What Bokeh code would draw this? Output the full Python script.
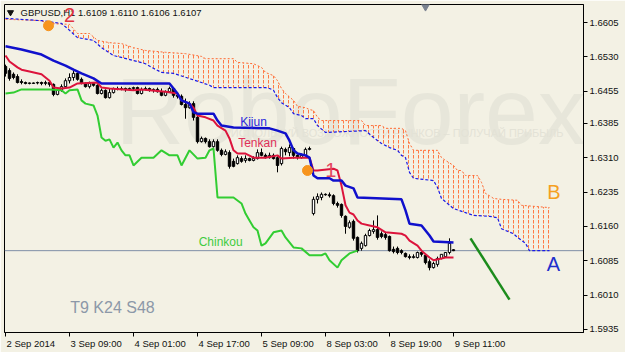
from bokeh.plotting import figure
from bokeh.models import FixedTicker, Label, Span, Range1d, PrintfTickFormatter
from bokeh.embed import file_html
from bokeh.resources import INLINE
from bokeh.core.properties import value

# ---------------- data (GBPUSD H1) ----------------
bar_open = [1.6509, 1.6500, 1.6492, 1.6487, 1.6476, 1.6474, 1.6472, 1.6472, 1.6473, 1.6474,
            1.6472, 1.6474, 1.6470, 1.6448, 1.6457, 1.6465, 1.6478, 1.6485, 1.6494, 1.6481,
            1.6472, 1.6465, 1.6472, 1.6468, 1.6450, 1.6457, 1.6441, 1.6452, 1.6461, 1.6459,
            1.6461, 1.6459, 1.6461, 1.6463, 1.6450, 1.6459, 1.6461, 1.6457, 1.6459, 1.6454,
            1.6446, 1.6454, 1.6461, 1.6446, 1.6444, 1.6426, 1.6419, 1.6428, 1.6398, 1.6345,
            1.6352, 1.6345, 1.6334, 1.6345, 1.6326, 1.6317, 1.6321, 1.6302, 1.6297, 1.6308,
            1.6304, 1.6308, 1.6304, 1.6308, 1.6321, 1.6315, 1.6310, 1.6315, 1.6310, 1.6297,
            1.6328, 1.6321, 1.6330, 1.6315, 1.6310, 1.6315, 1.6328, 1.6188, 1.6219, 1.6223,
            1.6230, 1.6229, 1.6227, 1.6210, 1.6208, 1.6182, 1.6158, 1.6171, 1.6136, 1.6112,
            1.6118, 1.6140, 1.6149, 1.6153, 1.6144, 1.6142, 1.6138, 1.6110, 1.6112, 1.6107,
            1.6101, 1.6094, 1.6092, 1.6092, 1.6103, 1.6097, 1.6083, 1.6070, 1.6077, 1.6090,
            1.6094, 1.6103, 1.6109]
bar_high = [1.6513, 1.6505, 1.6496, 1.6492, 1.6481, 1.6476, 1.6474, 1.6474, 1.6476, 1.6476,
            1.6478, 1.6478, 1.6472, 1.6459, 1.6470, 1.6483, 1.6494, 1.6500, 1.6496, 1.6485,
            1.6474, 1.6476, 1.6474, 1.6470, 1.6461, 1.6459, 1.6461, 1.6463, 1.6465, 1.6465,
            1.6463, 1.6463, 1.6465, 1.6465, 1.6463, 1.6465, 1.6463, 1.6461, 1.6463, 1.6461,
            1.6457, 1.6465, 1.6463, 1.6452, 1.6448, 1.6439, 1.6433, 1.6433, 1.6402, 1.6356,
            1.6354, 1.6350, 1.6350, 1.6350, 1.6330, 1.6328, 1.6326, 1.6308, 1.6315, 1.6313,
            1.6315, 1.6310, 1.6313, 1.6328, 1.6330, 1.6319, 1.6321, 1.6319, 1.6313, 1.6334,
            1.6332, 1.6339, 1.6332, 1.6317, 1.6319, 1.6332, 1.6334, 1.6225, 1.6232, 1.6234,
            1.6232, 1.6234, 1.6230, 1.6214, 1.6210, 1.6184, 1.6173, 1.6175, 1.6138, 1.6127,
            1.6144, 1.6155, 1.6173, 1.6184, 1.6149, 1.6147, 1.6140, 1.6116, 1.6116, 1.6110,
            1.6103, 1.6099, 1.6099, 1.6105, 1.6105, 1.6099, 1.6088, 1.6083, 1.6094, 1.6099,
            1.6103, 1.6134, 1.6110]
bar_low = [1.6487, 1.6478, 1.6481, 1.6472, 1.6470, 1.6470, 1.6470, 1.6471, 1.6470, 1.6468,
           1.6468, 1.6465, 1.6444, 1.6446, 1.6454, 1.6461, 1.6472, 1.6478, 1.6478, 1.6470,
           1.6463, 1.6461, 1.6465, 1.6448, 1.6448, 1.6439, 1.6439, 1.6450, 1.6457, 1.6457,
           1.6454, 1.6457, 1.6457, 1.6448, 1.6448, 1.6457, 1.6454, 1.6452, 1.6452, 1.6444,
           1.6444, 1.6452, 1.6441, 1.6439, 1.6424, 1.6395, 1.6417, 1.6391, 1.6341, 1.6343,
           1.6341, 1.6332, 1.6332, 1.6323, 1.6313, 1.6315, 1.6286, 1.6289, 1.6295, 1.6299,
           1.6299, 1.6302, 1.6302, 1.6306, 1.6313, 1.6308, 1.6308, 1.6306, 1.6278, 1.6293,
           1.6315, 1.6313, 1.6308, 1.6306, 1.6308, 1.6313, 1.6326, 1.6184, 1.6210, 1.6217,
           1.6227, 1.6223, 1.6206, 1.6201, 1.6179, 1.6144, 1.6155, 1.6129, 1.6103, 1.6107,
           1.6116, 1.6138, 1.6144, 1.6131, 1.6134, 1.6131, 1.6105, 1.6101, 1.6099, 1.6099,
           1.6092, 1.6088, 1.6090, 1.6090, 1.6094, 1.6077, 1.6064, 1.6068, 1.6072, 1.6088,
           1.6092, 1.6099, 1.6106]
bar_close = [1.6494, 1.6483, 1.6485, 1.6474, 1.6474, 1.6472, 1.6473, 1.6473, 1.6474, 1.6472,
             1.6474, 1.6470, 1.6448, 1.6457, 1.6465, 1.6478, 1.6485, 1.6494, 1.6481, 1.6472,
             1.6465, 1.6472, 1.6468, 1.6450, 1.6457, 1.6441, 1.6452, 1.6461, 1.6459, 1.6461,
             1.6459, 1.6461, 1.6463, 1.6450, 1.6459, 1.6461, 1.6457, 1.6459, 1.6454, 1.6446,
             1.6454, 1.6461, 1.6446, 1.6444, 1.6426, 1.6419, 1.6428, 1.6398, 1.6345, 1.6352,
             1.6345, 1.6334, 1.6345, 1.6326, 1.6317, 1.6323, 1.6291, 1.6291, 1.6310, 1.6302,
             1.6308, 1.6304, 1.6308, 1.6321, 1.6315, 1.6310, 1.6315, 1.6308, 1.6293, 1.6330,
             1.6323, 1.6332, 1.6315, 1.6310, 1.6315, 1.6328, 1.6330, 1.6219, 1.6225, 1.6230,
             1.6229, 1.6227, 1.6210, 1.6206, 1.6184, 1.6160, 1.6168, 1.6134, 1.6107, 1.6123,
             1.6140, 1.6151, 1.6153, 1.6136, 1.6138, 1.6136, 1.6107, 1.6105, 1.6103, 1.6103,
             1.6094, 1.6092, 1.6094, 1.6103, 1.6099, 1.6081, 1.6070, 1.6079, 1.6090, 1.6099,
             1.6103, 1.6123, 1.6107]

kijun_bar = [0, 4, 9, 12, 15, 17, 19, 22, 24, 41, 42, 43, 44, 46, 47, 48, 52, 53, 54, 57,
             66, 68, 70, 71, 72, 73, 75, 76, 77, 78, 81, 82, 84, 85, 87, 88, 99, 100, 101, 104,
             105, 106, 107, 112]
kijun_val = [1.6553, 1.6546, 1.6535, 1.6522, 1.6511, 1.6502, 1.6494, 1.6483, 1.6472, 1.6472,
             1.6461, 1.6450, 1.6435, 1.6428, 1.6409, 1.6406, 1.6406, 1.6391, 1.6380, 1.6376,
             1.6374, 1.6369, 1.6363, 1.6347, 1.6326, 1.6319, 1.6315, 1.6310, 1.6271, 1.6265,
             1.6265, 1.6260, 1.6260, 1.6249, 1.6243, 1.6223, 1.6219, 1.6195, 1.6166, 1.6162,
             1.6151, 1.6140, 1.6127, 1.6125]

tenkan_bar = [0, 1, 3, 4, 6, 9, 11, 12, 14, 16, 18, 23, 24, 26, 32, 34, 40, 43, 44, 46,
              47, 48, 50, 52, 53, 55, 56, 57, 58, 60, 62, 65, 68, 69, 72, 76, 77, 78, 82, 83,
              84, 85, 86, 87, 88, 89, 91, 93, 95, 99, 100, 101, 103, 104, 106, 107, 109, 110, 112]
tenkan_val = [1.6533, 1.6520, 1.6507, 1.6502, 1.6498, 1.6492, 1.6478, 1.6463, 1.6461, 1.6463,
              1.6472, 1.6474, 1.6463, 1.6461, 1.6457, 1.6459, 1.6454, 1.6450, 1.6435, 1.6428,
              1.6419, 1.6402, 1.6398, 1.6391, 1.6380, 1.6369, 1.6352, 1.6326, 1.6319, 1.6319,
              1.6310, 1.6310, 1.6315, 1.6308, 1.6310, 1.6310, 1.6282, 1.6282, 1.6286, 1.6282,
              1.6249, 1.6206, 1.6190, 1.6186, 1.6173, 1.6166, 1.6162, 1.6158, 1.6147, 1.6144,
              1.6140, 1.6129, 1.6118, 1.6107, 1.6092, 1.6086, 1.6090, 1.6092, 1.6092]

chinkou_bar = [0, 2, 4, 11, 14, 15, 16, 18, 19, 20, 22, 23, 24, 25, 26, 27, 28, 29, 30, 31,
               32, 34, 37, 39, 41, 43, 44, 46, 48, 50, 51, 52, 53, 55, 57, 59, 60, 61, 62, 63,
               64, 65, 67, 69, 70, 72, 74, 76, 79, 80, 81, 83, 84, 86, 88]
chinkou_val = [1.6450, 1.6452, 1.6459, 1.6459, 1.6457, 1.6450, 1.6457, 1.6459, 1.6435, 1.6428,
               1.6424, 1.6402, 1.6354, 1.6347, 1.6350, 1.6332, 1.6343, 1.6326, 1.6315, 1.6315,
               1.6293, 1.6310, 1.6310, 1.6326, 1.6315, 1.6315, 1.6293, 1.6326, 1.6308, 1.6310,
               1.6326, 1.6330, 1.6223, 1.6223, 1.6223, 1.6210, 1.6188, 1.6173, 1.6158, 1.6151,
               1.6118, 1.6123, 1.6147, 1.6151, 1.6136, 1.6114, 1.6112, 1.6097, 1.6097, 1.6101,
               1.6086, 1.6070, 1.6086, 1.6101, 1.6107]

senkou_a_bar = [0, 9, 10, 16, 18, 21, 23, 26, 29, 32, 35, 40, 45, 49, 50, 57, 58, 62, 64, 65,
                67, 68, 69, 70, 72, 73, 75, 76, 77, 78, 79, 89, 90, 94, 95, 99, 100, 101, 102, 108,
                109, 110, 112, 113, 114, 115, 118, 119, 120, 121, 122, 124, 128, 129, 136]
senkou_a_val = [1.6612, 1.6609, 1.6603, 1.6601, 1.6581, 1.6581, 1.6566, 1.6561, 1.6559, 1.6550,
                1.6544, 1.6540, 1.6537, 1.6531, 1.6526, 1.6526, 1.6518, 1.6515, 1.6507, 1.6496,
                1.6489, 1.6478, 1.6461, 1.6450, 1.6435, 1.6422, 1.6419, 1.6415, 1.6413, 1.6398,
                1.6391, 1.6391, 1.6380, 1.6380, 1.6374, 1.6374, 1.6369, 1.6341, 1.6326, 1.6326,
                1.6310, 1.6304, 1.6293, 1.6282, 1.6282, 1.6271, 1.6271, 1.6256, 1.6232, 1.6227,
                1.6221, 1.6219, 1.6217, 1.6206, 1.6201]

senkou_b_bar = [0, 9, 14, 16, 18, 22, 24, 27, 32, 35, 37, 39, 42, 49, 51, 52, 65, 66, 67, 68,
                69, 71, 72, 74, 75, 77, 78, 80, 90, 92, 94, 96, 98, 99, 100, 101, 102, 107, 108, 109,
                112, 115, 117, 121, 123, 124, 125, 127, 128, 130, 131, 136]
senkou_b_val = [1.6614, 1.6609, 1.6603, 1.6588, 1.6572, 1.6566, 1.6550, 1.6533, 1.6522, 1.6515,
                1.6505, 1.6496, 1.6494, 1.6474, 1.6468, 1.6463, 1.6463, 1.6461, 1.6457, 1.6441,
                1.6430, 1.6419, 1.6406, 1.6402, 1.6395, 1.6395, 1.6380, 1.6365, 1.6369, 1.6354,
                1.6341, 1.6332, 1.6326, 1.6315, 1.6310, 1.6278, 1.6265, 1.6260, 1.6245, 1.6221,
                1.6199, 1.6190, 1.6184, 1.6182, 1.6179, 1.6155, 1.6151, 1.6144, 1.6136, 1.6123,
                1.6107, 1.6107]

tick_bars = [0, 16, 32, 48, 64, 80, 96, 112]
tick_labels = ["2 Sep 2014", "3 Sep 09:00", "4 Sep 01:00", "4 Sep 17:00",
               "5 Sep 09:00", "8 Sep 03:00", "8 Sep 19:00", "9 Sep 11:00"]
price_ticks = [1.6605, 1.6530, 1.6455, 1.6385, 1.6310, 1.6235, 1.6160, 1.6085, 1.6010, 1.5935]

last_price = 1.6107
header_text = "GBPUSD,H1  1.6109 1.6110 1.6106 1.6107"

# annotation anchors (bar index, price)
point_bar = [10.75, 75.5]
point_price = [1.6598, 1.6282]
mark_text = ["2", "1", "B", "A"]
mark_bar = [16.0, 81.3, 137.1, 137.0]
mark_price = [1.6621, 1.6282, 1.6234, 1.6077]
mark_color = ["#E2323F", "#E5475F", "#F5A01E", "#2030CC"]
name_text = ["Kijun", "Tenkan", "Chinkou"]
name_bar = [62.0, 63.0, 53.8]
name_price = [1.6387, 1.6341, 1.6127]
name_color = ["#2828DC", "#E03058", "#3FCC3F"]
trend_bar = [116.25, 126.0]
trend_price = [1.6134, 1.6000]

BG = "#F3F1E4"
FONT = "Liberation Sans"
FONT_PX = 9.5
Y_BOTTOM, Y_TOP = 1.59284, 1.66443
X_LEFT, X_RIGHT = -0.25, 144.5
PX_PER_BAR = 4.0

p = figure(width=625, height=352, output_backend="svg", toolbar_location=None,
           x_range=Range1d(X_LEFT, X_RIGHT), y_range=Range1d(Y_BOTTOM, Y_TOP),
           y_axis_location="right", min_border_left=4, min_border_top=4,
           min_border_right=42, min_border_bottom=20)
p.background_fill_color = BG
p.border_fill_color = BG
p.outline_line_color = "black"
p.outline_line_width = 1
p.grid.visible = False

# ---- x axis: MT4 puts each date label to the right of its tick ----
# approximate Liberation Sans advance widths (em) to centre each label right of its tick
EM = {"S": 0.667, "e": 0.556, "p": 0.556, " ": 0.278, ":": 0.278}
def text_px(s):
    return sum(EM.get(ch, 0.556) for ch in s) * FONT_PX

label_pos = [t + (text_px(l) / 2 + 1) / PX_PER_BAR for t, l in zip(tick_bars, tick_labels)]
p.xaxis.ticker = FixedTicker(ticks=label_pos, minor_ticks=tick_bars)
p.xaxis.major_label_overrides = {pos: lab for pos, lab in zip(label_pos, tick_labels)}
p.xaxis.major_tick_line_color = None
p.xaxis.major_tick_out = 0
p.xaxis.major_tick_in = 0
p.xaxis.minor_tick_line_color = "black"
p.xaxis.minor_tick_in = 0
p.xaxis.minor_tick_out = 4
p.xaxis.major_label_standoff = 1

p.yaxis.ticker = FixedTicker(ticks=price_ticks)
p.yaxis.formatter = PrintfTickFormatter(format="%.4f")
p.yaxis.major_tick_line_color = "black"
p.yaxis.major_tick_in = 0
p.yaxis.major_tick_out = 4
p.yaxis.minor_tick_line_color = None
p.yaxis.major_label_standoff = 2
for ax in (p.xaxis, p.yaxis):
    ax.axis_line_color = "black"
    ax.major_label_text_font = FONT
    ax.major_label_text_font_size = f"{FONT_PX}px"
    ax.major_label_text_color = "#111111"

# watermark
p.text(x=[27.5], y=[1.6411], text=["RoboForex"], text_font=value(FONT),
       text_font_size="95px", text_color="#E7E6DA", text_baseline="alphabetic",
       text_align="left")
p.text(x=[139.5], y=[1.6363], text=["ИСПОЛЬЗУЙ ВОЗМОЖНОСТИ РЫНКОВ – ПОЛУЧАЙ ПРИБЫЛЬ"],
       text_font=value(FONT), text_font_size="11px", text_color="#E3E2D6",
       text_baseline="middle", text_align="right")

# current price line
p.add_layout(Span(location=last_price, dimension="width", line_color="#7F8FA6",
                  line_width=1, level="underlay"))

# cloud
cloud_x = list(senkou_a_bar) + list(reversed(senkou_b_bar))
cloud_y = list(senkou_a_val) + list(reversed(senkou_b_val))
p.patch(cloud_x, cloud_y, fill_alpha=0, line_alpha=0, hatch_pattern=":",
        hatch_color="#FF7A45", hatch_scale=5, hatch_weight=1)
p.line(senkou_a_bar, senkou_a_val, line_color="#FF6A33", line_width=1, line_dash="2 2")
p.line(senkou_b_bar, senkou_b_val, line_color="#1A1AE6", line_width=1.2, line_dash="3 2")

# candles
bars = list(range(len(bar_close)))
bull = [c >= o for o, c in zip(bar_open, bar_close)]
tops = [max(o, c) for o, c in zip(bar_open, bar_close)]
bots = [min(o, c) for o, c in zip(bar_open, bar_close)]
fills = ["white" if b else "black" for b in bull]
p.segment(x0=bars, y0=bar_low, x1=bars, y1=bar_high, line_color="black", line_width=1)
p.vbar(x=bars, top=tops, bottom=bots, width=0.6, fill_color=fills,
       line_color="black", line_width=1)

# ichimoku lines
p.line(chinkou_bar, chinkou_val, line_color="#32CD32", line_width=2)
p.line(tenkan_bar, tenkan_val, line_color="#DC143C", line_width=2)
p.line(kijun_bar, kijun_val, line_color="#1010CC", line_width=2.5)

# drawings
p.line(trend_bar, trend_price, line_color="#1C8C1C", line_width=2.5)
p.scatter(point_bar, point_price, size=10, marker="circle", fill_color="#F7941D",
          line_color="#F7941D")
p.scatter([105.0], [1.6640], marker="inverted_triangle", size=8,
          fill_color="#7A8290", line_color="#7A8290")
p.scatter([1.25], [1.6627], marker="inverted_triangle", size=6,
          fill_color="#111111", line_color="#111111")

# texts
p.text(x=[3.75], y=[1.6627], text=[header_text], text_font=value(FONT),
       text_font_size="9.5px", text_color="#111111", text_baseline="middle",
       text_align="left")
p.text(x=name_bar, y=name_price, text=name_text, text_font=value(FONT),
       text_font_size="12px", text_color=name_color, text_baseline="middle",
       text_align="center")
p.text(x=mark_bar, y=mark_price, text=mark_text, text_font=value(FONT),
       text_font_size="20px", text_color=mark_color, text_baseline="middle",
       text_align="center")
p.text(x=[26.75], y=[1.5983], text=["T9 K24 S48"], text_font=value(FONT),
       text_font_size="16px", text_color="#8C98A8", text_baseline="middle",
       text_align="center")

p.add_layout(Label(x=145.0, y=last_price, text="1.6107", text_color="white",
                   text_font=FONT, text_font_size="9.5px", text_baseline="middle",
                   text_align="left", background_fill_color="black", padding=3))

open("out.html", "w").write(file_html(p, INLINE))
